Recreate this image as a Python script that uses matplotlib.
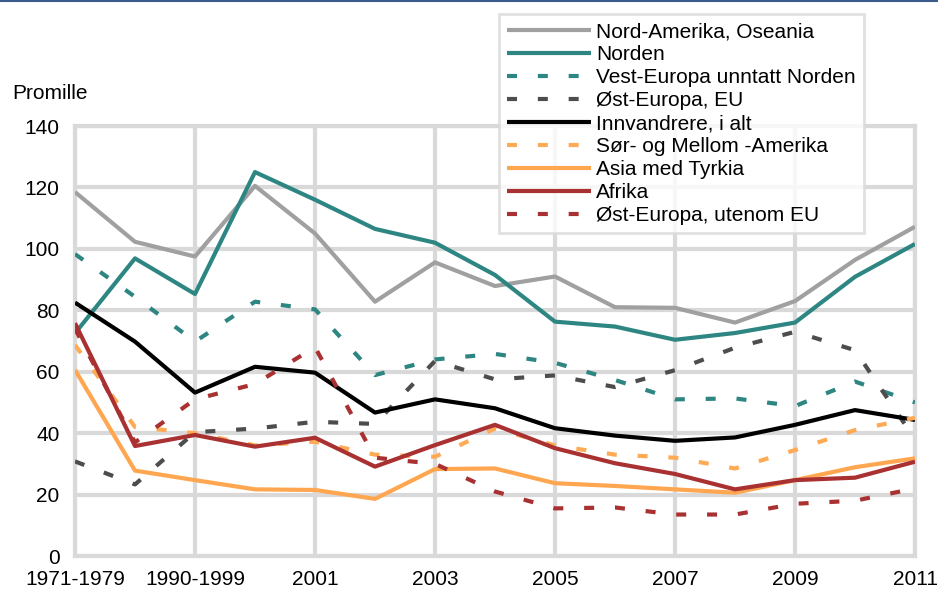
import matplotlib
matplotlib.use("Agg")
import matplotlib.pyplot as plt
from matplotlib.lines import Line2D

plt.rcParams['font.family'] = ['Liberation Sans', 'DejaVu Sans']

categories = ["1971-1979", "1980-1989", "1990-1999", "2000", "2001", "2002", "2003",
              "2004", "2005", "2006", "2007", "2008", "2009", "2010", "2011"]

nord_amerika = [118.5, 102.3, 97.5, 120.5, 105.0, 82.8, 95.6, 87.9, 91.0, 81.0, 80.8, 76.0, 83.0, 96.4, 107.2]
norden = [72.5, 96.9, 85.3, 125.0, 116.0, 106.5, 102.0, 91.5, 76.3, 74.7, 70.4, 72.6, 76.0, 90.9, 101.6]
vest_europa = [98.3, 84.4, 69.8, 82.8, 80.3, 58.9, 64.0, 65.8, 62.9, 57.3, 51.0, 51.3, 48.8, 56.8, 50.0]
ost_europa_eu = [30.8, 23.3, 40.3, 41.5, 43.7, 43.0, 63.5, 57.5, 58.8, 55.0, 60.5, 67.8, 73.0, 67.0, 38.0]
innvandrere = [82.5, 69.8, 53.2, 61.6, 59.7, 46.7, 51.0, 48.1, 41.6, 39.2, 37.5, 38.6, 42.7, 47.5, 44.3]
sor_mellom = [68.7, 42.0, 40.0, 36.0, 37.2, 33.0, 32.3, 41.5, 36.0, 33.0, 32.0, 28.5, 34.5, 41.0, 45.0]
asia = [60.6, 27.8, 24.7, 21.7, 21.5, 18.6, 28.3, 28.5, 23.7, 22.8, 21.7, 20.6, 24.7, 28.9, 31.8]
afrika = [75.8, 35.8, 39.4, 35.6, 38.5, 29.1, 36.1, 42.7, 35.1, 30.2, 26.7, 21.7, 24.7, 25.5, 30.7]
ost_europa_utenom = [74.0, 37.0, 51.0, 56.0, 68.0, 32.0, 30.0, 21.0, 15.5, 15.8, 13.5, 13.5, 17.0, 18.0, 22.0]

labels = ["Nord-Amerika, Oseania", "Norden", "Vest-Europa unntatt Norden", "Øst-Europa, EU",
          "Innvandrere, i alt", "Sør- og Mellom -Amerika", "Asia med Tyrkia", "Afrika",
          "Øst-Europa, utenom EU"]
series = [nord_amerika, norden, vest_europa, ost_europa_eu, innvandrere, sor_mellom, asia, afrika,
          ost_europa_utenom]
colors = ["#A0A0A0", "#2E8683", "#2E8683", "#4D4D4D", "#000000", "#FFAA55", "#FFA650", "#A93131", "#A93131"]
dashed = [False, False, True, True, False, True, False, False, True]

y_ticks = [0, 20, 40, 60, 80, 100, 120, 140]

W, H = 938, 590
fig = plt.figure(figsize=(W / 100, H / 100), dpi=100)
ax = fig.add_axes([75 / W, 1 - 556 / H, (915 - 75) / W, (556 - 126) / H])

x = list(range(len(categories)))
lw = 3.0
handles = []
for vals, c, d, lab in zip(series, colors, dashed, labels):
    if d:
        ln, = ax.plot(x, vals, color=c, lw=lw, dashes=(2.4, 5.0), dash_capstyle='butt',
                      label=lab, zorder=3)
    else:
        ln, = ax.plot(x, vals, color=c, lw=lw, solid_capstyle='butt', label=lab, zorder=3)
    handles.append(ln)

ax.set_xlim(0, len(categories) - 1)
ax.set_ylim(0, 140)
ax.set_yticks(y_ticks)
ax.set_xticks(x[::2])
ax.set_xticklabels(categories[::2])
ax.grid(True, color="#D9D9D9", lw=3.0, zorder=0)
for s in ax.spines.values():
    s.set_color("#D9D9D9")
    s.set_linewidth(3.0)
ax.tick_params(length=0, labelsize=15, colors="#000000")
ax.tick_params(axis='y', pad=11)
ax.tick_params(axis='x', pad=10)
ax.set_axisbelow(True)

fig.text(12 / W, 1 - 93 / H, "Promille", fontsize=15, va='center', ha='left')

leg = fig.legend(handles=handles, loc='upper left', bbox_to_anchor=(499 / W, 1 - 14 / H),
                 bbox_transform=fig.transFigure, fontsize=15, frameon=True, fancybox=False,
                 handlelength=4.0, handletextpad=0.25, labelspacing=0.19, borderpad=0.4,
                 borderaxespad=0)
leg.get_frame().set_edgecolor("#D9D9D9")
leg.get_frame().set_linewidth(2.0)
leg.set_zorder(10)

fig.add_artist(Line2D([0, 1], [1 - 1 / H, 1 - 1 / H], transform=fig.transFigure,
                      color="#3A5A8C", lw=1.5))

fig.savefig("out.png", dpi=100)
